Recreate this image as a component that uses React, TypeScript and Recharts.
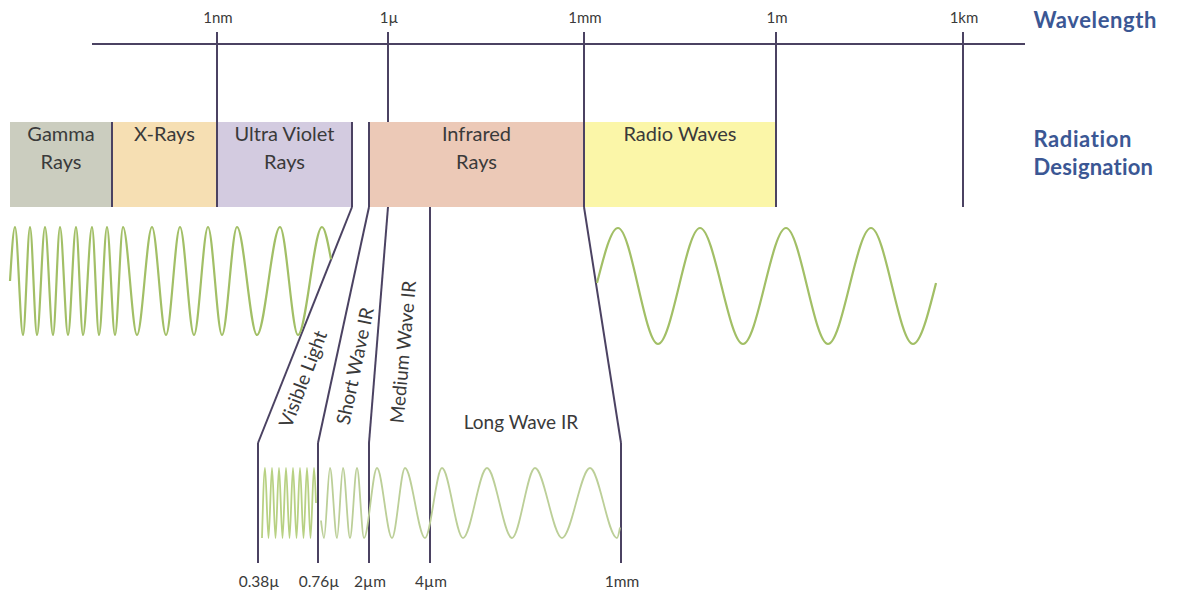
import React from 'react';
import { ComposedChart, XAxis, YAxis, Line, ReferenceArea, ReferenceLine, ReferenceDot } from 'recharts';

// Diagram units: x runs 0..1179 left to right, y runs 0..597 top to bottom.

// Wavelength scale along the top
const scaleLabels = ['1nm', '1µ', '1mm', '1m', '1km'];
const scaleTickX = [217, 388, 584, 776, 963];

// Radiation designation bands
const bandNames = [['Gamma', 'Rays'], ['X-Rays'], ['Ultra Violet', 'Rays'], ['Infrared', 'Rays'], ['Radio Waves']];
const bandStart = [10, 112, 217, 369, 584];
const bandEnd = [112, 217, 352, 584, 776];
const bandColors = ['#cbcdbf', '#f6dfb3', '#d3cbe0', '#ecc9b7', '#fbf6a8'];

// Infrared zoom-in: boundary labels, where each boundary leaves the band row and where it lands
const irEdgeLabels = ['0.38µ', '0.76µ', '2µm', '4µm', '1mm'];
const irEdgeFrom = [352, 369, 388, 430, 584];
const irEdgeTo = [258, 318, 369, 430, 621];
const irBandNames = ['Visible Light', 'Short Wave IR', 'Medium Wave IR', 'Long Wave IR'];
const irBandAngles = [-69, -78, -85, 0];
const irBandLabelPos = [[303, 379], [355, 366], [403, 352], [521, 422]];

// Wave crests (1) and troughs (-1) as [x, level]
const shortWave: number[][] = [
  [10, 0], [15, 1], [23, -1], [30, 1], [37, -1], [45, 1], [53, -1], [60, 1], [68, -1], [76, 1], [83, -1],
  [92, 1], [99, -1], [107, 1], [115, -1], [123, 1], [137, -1], [152, 1], [166, -1], [180, 1], [194, -1],
  [208, 1], [222, -1], [237, 1], [257, -1], [280, 1], [298, -1], [322, 1], [331, 0.4],
];
const radioWave: number[][] = [
  [597, 0.05], [618, 1], [658, -1], [700, 1], [743, -1], [786, 1], [828, -1], [871, 1], [913, -1], [936, 0.05],
];
const visibleWave: number[][] = [
  [262, -1], [265, 1], [268.5, -1], [272, 1], [275.5, -1], [279, 1], [282.5, -1], [286, 1], [289.5, -1],
  [293, 1], [296.5, -1], [300, 1], [303.5, -1], [307, 1], [310.5, -1], [314, 1], [316, 0],
];
const infraredWave: number[][] = [
  [321, -0.5], [324, -1], [330, 1], [337, -1], [343, 1], [350, -1], [357, 1], [364, -1], [377, 1], [392, -1],
  [405, 1], [425, -1], [442, 1], [463, -1], [487, 1], [512, -1], [535, 1], [562, -1], [590, 1], [617, -1], [620, -0.7],
];

const LINE = '#4b4262';
const BLUE = '#3b5794';
const FONT = 'Lato, "Open Sans", sans-serif';

const toSeries = (pts: number[][], mid: number, amp: number) => pts.map(([x, lv]) => ({ x, y: mid - lv * amp }));

const seg = (key: string, x1: number, y1: number, x2: number, y2: number) => (
  <ReferenceLine
    key={key}
    segment={[{ x: x1, y: y1 }, { x: x2, y: y2 }]}
    stroke={LINE}
    strokeWidth={2}
    ifOverflow="visible"
  />
);

const txt = (key: string, x: number, y: number, value: string, opts: any = {}) => (
  <ReferenceDot
    key={key}
    x={x}
    y={y}
    r={0.5}
    fill="none"
    stroke="none"
    ifOverflow="visible"
    label={{
      value,
      position: opts.start ? 'right' : 'center',
      offset: 0,
      fill: opts.fill ?? '#3a3a3a',
      fontSize: opts.fontSize ?? 20,
      fontFamily: FONT,
      fontWeight: opts.fontWeight ?? 400,
      letterSpacing: opts.letterSpacing ?? 0,
      angle: opts.angle ?? 0,
    }}
  />
);

export default function App() {
  const bandMid = (i: number) => (bandStart[i] + bandEnd[i]) / 2;
  const waveProps = { dataKey: 'y', type: 'monotone' as const, dot: false, activeDot: false, isAnimationActive: false };
  return (
    <div style={{ position: 'absolute', left: 0, top: 0, background: '#fff' }}>
      <ComposedChart width={1179} height={597} margin={{ top: 0, right: 0, bottom: 0, left: 0 }}>
        <XAxis type="number" dataKey="x" domain={[0, 1179]} allowDataOverflow hide />
        <YAxis type="number" domain={[0, 597]} reversed allowDataOverflow hide />

        {bandNames.map((_, i) => (
          <ReferenceArea
            key={`band-${i}`}
            x1={bandStart[i]}
            x2={bandEnd[i]}
            y1={122}
            y2={207}
            fill={bandColors[i]}
            fillOpacity={1}
            stroke="none"
            ifOverflow="visible"
          />
        ))}

        {/* wavelength axis and ticks */}
        {seg('axis', 92, 44, 1025, 44)}
        {scaleTickX.map((x, i) => seg(`tick-${i}`, x, 32, x, i === 1 ? 122 : 207))}
        {seg('gx', 112, 122, 112, 207)}
        {seg('uv-edge', 352, 122, 352, 207)}
        {seg('ir-edge', 369, 122, 369, 207)}

        {/* infrared breakdown boundaries */}
        {irEdgeFrom.map((x, i) => seg(`ir-a-${i}`, x, 207, irEdgeTo[i], irEdgeTo[i] === x ? 563 : 443))}
        {irEdgeTo.map((x, i) => seg(`ir-b-${i}`, x, 443, x, 563))}

        <Line {...waveProps} data={toSeries(shortWave, 281, 54)} stroke="#a2bf66" strokeWidth={2.2} />
        <Line {...waveProps} data={toSeries(radioWave, 286, 58)} stroke="#a2bf66" strokeWidth={2.2} />
        <Line {...waveProps} data={toSeries(visibleWave, 503, 35)} stroke="#b8d183" strokeWidth={1.8} />
        <Line {...waveProps} data={toSeries(infraredWave, 503, 35)} stroke="#bccf98" strokeWidth={1.8} />

        {scaleLabels.map((s, i) => txt(`sl-${i}`, scaleTickX[i] + 1, 18, s, { fontSize: 15 }))}
        {bandNames.map((lines, i) =>
          lines.map((l, j) => txt(`bn-${i}-${j}`, bandMid(i), 134 + j * 28, l))
        )}
        {irBandNames.map((n, i) =>
          txt(`ir-${i}`, irBandLabelPos[i][0], irBandLabelPos[i][1], n, { angle: irBandAngles[i], fontSize: 19 })
        )}
        {irEdgeLabels.map((s, i) => txt(`el-${i}`, irEdgeTo[i] + 1, 581, s, { fontSize: 15.5 }))}

        {txt('wl', 1033, 20, 'Wavelength', { start: true, fill: BLUE, fontWeight: 700, fontSize: 22, letterSpacing: 0.6 })}
        {txt('rd1', 1033, 139, 'Radiation', { start: true, fill: BLUE, fontWeight: 700, fontSize: 22, letterSpacing: 0.6 })}
        {txt('rd2', 1033, 167, 'Designation', { start: true, fill: BLUE, fontWeight: 700, fontSize: 22, letterSpacing: 0.2 })}
      </ComposedChart>
    </div>
  );
}
